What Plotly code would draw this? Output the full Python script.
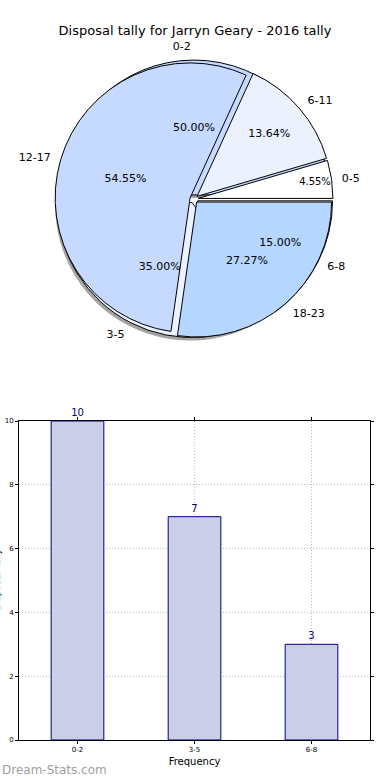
import plotly.graph_objects as go

title = "Disposal tally for Jarryn Geary - 2016 tally"

# Pie 1 (frequency buckets)
cats1 = ["0-2", "3-5", "6-8"]
vals1 = [10, 7, 3]
cols1 = ["#c6d9fe", "#ebf2fe", "#ffffff"]

# Pie 2 (disposal ranges)
cats2 = ["0-5", "6-11", "12-17", "18-23"]
vals2 = [1, 3, 12, 6]
cols2 = ["#ffffff", "#ebf2fe", "#c6d9fe", "#b5d6fe"]

# Bar chart
bar_cats = ["0-2", "3-5", "6-8"]
bar_vals = [10, 7, 3]
y_ticks = [0, 2, 4, 6, 8, 10]

W, H = 390, 780
ML, MR, MT, MB = 19, 20, 40, 40
PW, PH = W - ML - MR, H - MT - MB

def fx(px):
    return (px - ML) / PW

def fy(py):
    return (H - MB - py) / PH

def domain(cx, cy, r):
    return dict(x=[fx(cx - r), fx(cx + r)], y=[fy(cy + r), fy(cy - r)])

CX, CY, R = 194, 199, 139
dom = domain(CX, CY, R)
sdom = domain(CX - 2, CY + 3, R)
ldom = domain(CX, CY, R * 1.05)

pull = 0.03
# matplotlib-style: start at 3 o'clock, counterclockwise  ==  reversed order, clockwise
common = dict(sort=False, direction="clockwise", rotation=90,
              showlegend=False, hoverinfo="skip")
clear = "rgba(0,0,0,0)"
tfont = dict(family="DejaVu Sans", size=11, color="black")

def rev(a):
    return list(a)[::-1]

fig = go.Figure()
# shadow
fig.add_trace(go.Pie(labels=rev(cats1), values=rev(vals1), domain=sdom, pull=pull,
                     marker=dict(colors=["rgba(90,90,90,0.55)"] * 3, line=dict(width=0)),
                     textinfo="none", **common))
# pie 1 wedges
fig.add_trace(go.Pie(labels=rev(cats1), values=rev(vals1), domain=dom, pull=pull,
                     marker=dict(colors=rev(cols1), line=dict(color="black", width=1)),
                     textinfo="none", **common))
# pie 2 wedges
fig.add_trace(go.Pie(labels=rev(cats2), values=rev(vals2), domain=dom, pull=pull,
                     marker=dict(colors=rev(cols2), line=dict(color="black", width=1)),
                     textinfo="none", **common))
# percent texts
for cats, vals in ((cats1, vals1), (cats2, vals2)):
    fig.add_trace(go.Pie(labels=rev(cats), values=rev(vals), domain=dom, pull=pull,
                         marker=dict(colors=[clear] * len(cats), line=dict(width=0)),
                         texttemplate="%{percent:.2%}", textposition="inside",
                         insidetextorientation="horizontal", textfont=tfont, **common))
# outside labels (placed a little beyond the rim)
for cats, vals in ((cats1, vals1), (cats2, vals2)):
    fig.add_trace(go.Pie(labels=rev(cats), values=rev(vals), domain=ldom, pull=pull,
                         marker=dict(colors=[clear] * len(cats), line=dict(width=0)),
                         texttemplate="%{label}", textposition="outside",
                         outsidetextfont=tfont, **common))

# bar chart
fig.add_trace(go.Bar(x=bar_cats, y=bar_vals, width=0.45,
                     marker=dict(color="#cccde6", line=dict(color="#000080", width=1)),
                     text=[str(v) for v in bar_vals], textposition="outside",
                     textfont=dict(family="DejaVu Sans", size=10, color="#000080"),
                     cliponaxis=False, showlegend=False, hoverinfo="skip"))

grid = dict(showgrid=True, gridcolor="#bdbdbd", griddash="1px,2px", gridwidth=1,
            showline=True, mirror="ticks", linecolor="black", linewidth=1,
            zeroline=False, automargin=False, ticks="outside", ticklen=3,
            tickcolor="black",
            tickfont=dict(family="DejaVu Sans", size=7, color="black"))

fig.update_layout(
    width=W, height=H, template="none",
    paper_bgcolor="white", plot_bgcolor="white",
    margin=dict(l=ML, r=MR, t=MT, b=MB),
    title=dict(text=title, x=0.5, xanchor="center", y=1 - 30 / H, yanchor="middle",
               font=dict(family="DejaVu Sans", size=13, color="black")),
    xaxis=dict(domain=[0, 1], range=[-0.5, 2.5],
               title=dict(text="Frequency", standoff=4,
                          font=dict(family="DejaVu Sans", size=10, color="black")),
               **grid),
    yaxis=dict(domain=[0, fy(421)], range=[0, 10], tickvals=y_ticks, **grid),
    annotations=[
        dict(text="Disposal Tally", xref="paper", yref="paper",
             x=fx(-3), y=fy(580), xanchor="center", yanchor="middle", textangle=-90,
             showarrow=False, font=dict(family="DejaVu Sans", size=9, color="black")),
        dict(text="Dream-Stats.com", xref="paper", yref="paper",
             x=fx(0), y=fy(770), xanchor="left", yanchor="middle",
             showarrow=False,
             font=dict(family="DejaVu Sans", size=12, color="#a0a0a0")),
    ],
)

fig.write_html("out.html", config={"displayModeBar": False},
               post_script="document.body.style.margin='0px';")
